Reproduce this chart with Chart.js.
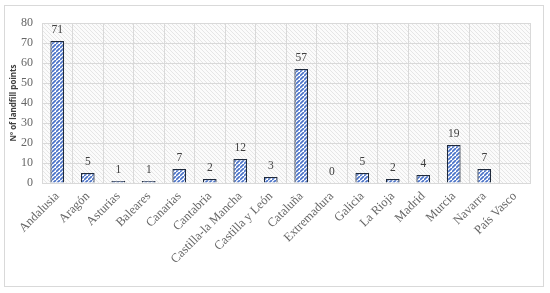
<!DOCTYPE html>
<html>
<head>
<meta charset="utf-8">
<script src="https://cdn.jsdelivr.net/npm/chart.js@4.4.0/dist/chart.umd.min.js"></script>
<style>
  html, body { margin: 0; padding: 0; background: #fff; }
  #wrap { position: relative; width: 550px; height: 293px; }
  #frame { position: absolute; left: 4px; top: 5px; width: 540px; height: 282px; border: 1px solid #d9d9d9; box-sizing: border-box; pointer-events: none; }
</style>
</head>
<body>
<div id="wrap">
  <canvas id="chart" width="550" height="293"></canvas>
  <div id="frame"></div>
</div>
<script>
// data
const regions = ['Andalusia', 'Aragón', 'Asturias', 'Baleares', 'Canarias', 'Cantabria',
  'Castilla-la Mancha', 'Castilla y León', 'Cataluña', 'Extremadura', 'Galicia',
  'La Rioja', 'Madrid', 'Murcia', 'Navarra', 'País Vasco'];
const landfillPoints = [71, 5, 1, 1, 7, 2, 12, 3, 57, 0, 5, 2, 4, 19, 7, null];
const yTicks = [0, 10, 20, 30, 40, 50, 60, 70, 80];

const serif = '"Liberation Serif", "DejaVu Serif", serif';

// hatch patterns
function makeHatch(bg, fg, size, lw) {
  const c = document.createElement('canvas');
  c.width = size; c.height = size;
  const g = c.getContext('2d');
  g.fillStyle = bg;
  g.fillRect(0, 0, size, size);
  g.strokeStyle = fg;
  g.lineWidth = lw;
  g.beginPath();
  g.moveTo(0, size); g.lineTo(size, 0);
  g.moveTo(-size, size); g.lineTo(0, 0);
  g.moveTo(size, 2 * size); g.lineTo(2 * size, size);
  g.stroke();
  return g.createPattern(c, 'repeat');
}
function makeBgHatch() {
  const c = document.createElement('canvas');
  c.width = 4; c.height = 4;
  const g = c.getContext('2d');
  g.fillStyle = '#fbfbfb';
  g.fillRect(0, 0, 4, 4);
  g.strokeStyle = '#e6e6e6';
  g.lineWidth = 1;
  g.beginPath();
  g.moveTo(0, 0); g.lineTo(4, 4);
  g.moveTo(-4, 0); g.lineTo(0, 4);
  g.moveTo(4, 0); g.lineTo(8, 4);
  g.stroke();
  return g.createPattern(c, 'repeat');
}

const barHatch = makeHatch('#ffffff', '#4a72c8', 4, 1.7);
const bgHatch = makeBgHatch();

const plotBackground = {
  id: 'plotBackground',
  beforeDraw(chart) {
    const a = chart.chartArea;
    const ctx = chart.ctx;
    ctx.save();
    ctx.fillStyle = bgHatch;
    ctx.fillRect(a.left, a.top, a.right - a.left, a.bottom - a.top);
    ctx.restore();
  }
};

const valueLabels = {
  id: 'valueLabels',
  afterDatasetsDraw(chart) {
    const ctx = chart.ctx;
    const meta = chart.getDatasetMeta(0);
    ctx.save();
    ctx.font = '11.5px ' + serif;
    ctx.fillStyle = '#404040';
    ctx.textAlign = 'center';
    ctx.textBaseline = 'bottom';
    meta.data.forEach((bar, i) => {
      const v = landfillPoints[i];
      if (v === null) return;
      ctx.fillText(String(v), bar.x, bar.y - 5);
    });
    ctx.restore();
  }
};

new Chart(document.getElementById('chart'), {
  type: 'bar',
  data: {
    labels: regions,
    datasets: [{
      data: landfillPoints,
      backgroundColor: barHatch,
      borderColor: '#1f2a3c',
      borderWidth: 1.2,
      categoryPercentage: 1,
      barPercentage: 0.45
    }]
  },
  options: {
    responsive: false,
    animation: false,
    layout: { padding: { left: 0, right: 20, top: 23, bottom: 0 } },
    plugins: {
      legend: { display: false },
      tooltip: { enabled: false }
    },
    scales: {
      x: {
        grid: { color: '#d9d9d9', drawTicks: false },
        border: { color: '#d9d9d9' },
        afterFit(axis) {
          axis.height = 110;
          axis.paddingLeft = 0;
          axis.paddingRight = 0;
        },
        ticks: {
          color: '#666666',
          font: { family: serif, size: 12.5 },
          minRotation: 45,
          maxRotation: 45,
          autoSkip: false,
          padding: 6
        }
      },
      y: {
        min: 0,
        max: 80,
        afterBuildTicks(axis) { axis.ticks = yTicks.map(v => ({ value: v })); },
        afterFit(axis) {
          axis.width = 42;
          axis.paddingTop = 0;
          axis.paddingBottom = 0;
        },
        grid: { color: '#d9d9d9', drawTicks: false },
        border: { display: false },
        ticks: {
          color: '#666666',
          font: { family: serif, size: 12 },
          padding: 9
        },
        title: {
          display: true,
          text: 'Nº of landfill points',
          color: '#404040',
          font: { family: '"Open Sans", "DejaVu Sans", sans-serif', size: 8, weight: 'bold' },
          padding: { top: 9, bottom: 0 }
        }
      }
    }
  },
  plugins: [plotBackground, valueLabels]
});
</script>
</body>
</html>
